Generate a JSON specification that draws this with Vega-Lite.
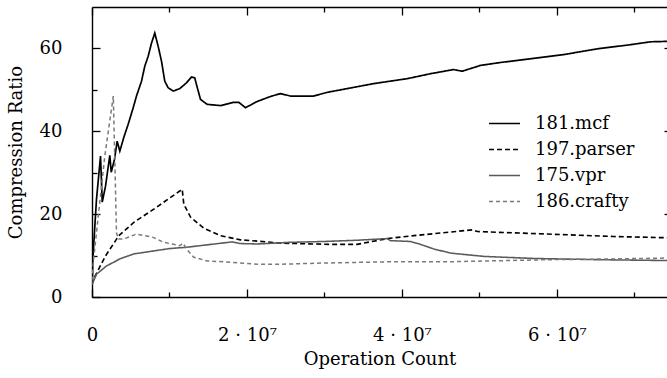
{
  "$schema": "https://vega.github.io/schema/vega-lite/v6.json",
  "width": 575,
  "height": 290,
  "autosize": {"type": "none"},
  "padding": {"left": 92, "top": 7, "right": 0, "bottom": 81},
  "background": "white",
  "config": {
    "view": {"stroke": null},
    "font": "DejaVu Serif",
    "axis": {
      "grid": false,
      "labelFont": "DejaVu Serif",
      "labelFontSize": 18,
      "labelColor": "#000",
      "titleFont": "DejaVu Serif",
      "titleFontSize": 18,
      "titleFontWeight": "normal",
      "titleColor": "#000",
      "domainColor": "#000",
      "domainWidth": 1.4,
      "tickColor": "#000",
      "tickWidth": 1.3
    },
    "legend": {
      "labelFont": "DejaVu Serif",
      "labelFontSize": 18,
      "labelColor": "#000",
      "symbolType": "stroke",
      "symbolSize": 961,
      "symbolStrokeWidth": 1.5,
      "labelOffset": 14,
      "clipHeight": 25,
      "rowPadding": 1,
      "padding": 0
    }
  },
  "data": {
    "values": [
      {"bench": "181.mcf", "ops": 50000, "ratio": 4},
      {"bench": "181.mcf", "ops": 100000, "ratio": 9},
      {"bench": "181.mcf", "ops": 580000, "ratio": 23.6},
      {"bench": "181.mcf", "ops": 1100000, "ratio": 34.0},
      {"bench": "181.mcf", "ops": 1320000, "ratio": 22.9},
      {"bench": "181.mcf", "ops": 1740000, "ratio": 26.7},
      {"bench": "181.mcf", "ops": 2300000, "ratio": 34.2},
      {"bench": "181.mcf", "ops": 2480000, "ratio": 30.1},
      {"bench": "181.mcf", "ops": 2900000, "ratio": 33.2},
      {"bench": "181.mcf", "ops": 3250000, "ratio": 37.6},
      {"bench": "181.mcf", "ops": 3590000, "ratio": 35.2},
      {"bench": "181.mcf", "ops": 4100000, "ratio": 38.5},
      {"bench": "181.mcf", "ops": 4670000, "ratio": 41.7},
      {"bench": "181.mcf", "ops": 5320000, "ratio": 45.7},
      {"bench": "181.mcf", "ops": 5740000, "ratio": 48.5},
      {"bench": "181.mcf", "ops": 6390000, "ratio": 52.1},
      {"bench": "181.mcf", "ops": 6810000, "ratio": 55.7},
      {"bench": "181.mcf", "ops": 7250000, "ratio": 58.1},
      {"bench": "181.mcf", "ops": 7680000, "ratio": 61.3},
      {"bench": "181.mcf", "ops": 8100000, "ratio": 63.7},
      {"bench": "181.mcf", "ops": 8540000, "ratio": 60.5},
      {"bench": "181.mcf", "ops": 8970000, "ratio": 56.9},
      {"bench": "181.mcf", "ops": 9390000, "ratio": 52.1},
      {"bench": "181.mcf", "ops": 9830000, "ratio": 50.5},
      {"bench": "181.mcf", "ops": 10480000, "ratio": 49.7},
      {"bench": "181.mcf", "ops": 11330000, "ratio": 50.3},
      {"bench": "181.mcf", "ops": 12190000, "ratio": 51.7},
      {"bench": "181.mcf", "ops": 12840000, "ratio": 53.1},
      {"bench": "181.mcf", "ops": 13260000, "ratio": 52.9},
      {"bench": "181.mcf", "ops": 13480000, "ratio": 51.3},
      {"bench": "181.mcf", "ops": 14000000, "ratio": 47.7},
      {"bench": "181.mcf", "ops": 14860000, "ratio": 46.5},
      {"bench": "181.mcf", "ops": 16580000, "ratio": 46.2},
      {"bench": "181.mcf", "ops": 18300000, "ratio": 47.0},
      {"bench": "181.mcf", "ops": 18940000, "ratio": 47.0},
      {"bench": "181.mcf", "ops": 19810000, "ratio": 45.7},
      {"bench": "181.mcf", "ops": 21320000, "ratio": 47.2},
      {"bench": "181.mcf", "ops": 23030000, "ratio": 48.4},
      {"bench": "181.mcf", "ops": 24320000, "ratio": 49.1},
      {"bench": "181.mcf", "ops": 25610000, "ratio": 48.5},
      {"bench": "181.mcf", "ops": 28580000, "ratio": 48.5},
      {"bench": "181.mcf", "ops": 30350000, "ratio": 49.4},
      {"bench": "181.mcf", "ops": 32930000, "ratio": 50.3},
      {"bench": "181.mcf", "ops": 36320000, "ratio": 51.5},
      {"bench": "181.mcf", "ops": 40670000, "ratio": 52.7},
      {"bench": "181.mcf", "ops": 43680000, "ratio": 53.9},
      {"bench": "181.mcf", "ops": 46650000, "ratio": 54.9},
      {"bench": "181.mcf", "ops": 47770000, "ratio": 54.5},
      {"bench": "181.mcf", "ops": 50130000, "ratio": 55.9},
      {"bench": "181.mcf", "ops": 52710000, "ratio": 56.6},
      {"bench": "181.mcf", "ops": 56580000, "ratio": 57.5},
      {"bench": "181.mcf", "ops": 60840000, "ratio": 58.5},
      {"bench": "181.mcf", "ops": 65190000, "ratio": 59.9},
      {"bench": "181.mcf", "ops": 69480000, "ratio": 60.9},
      {"bench": "181.mcf", "ops": 72060000, "ratio": 61.6},
      {"bench": "181.mcf", "ops": 74200000, "ratio": 61.7},

      {"bench": "197.parser", "ops": 0, "ratio": 3.0},
      {"bench": "197.parser", "ops": 300000, "ratio": 4.7},
      {"bench": "197.parser", "ops": 1740000, "ratio": 9.9},
      {"bench": "197.parser", "ops": 3460000, "ratio": 14.8},
      {"bench": "197.parser", "ops": 5390000, "ratio": 18.0},
      {"bench": "197.parser", "ops": 7970000, "ratio": 21.2},
      {"bench": "197.parser", "ops": 11640000, "ratio": 26.0},
      {"bench": "197.parser", "ops": 11850000, "ratio": 22.4},
      {"bench": "197.parser", "ops": 12710000, "ratio": 19.3},
      {"bench": "197.parser", "ops": 14430000, "ratio": 16.6},
      {"bench": "197.parser", "ops": 16580000, "ratio": 14.8},
      {"bench": "197.parser", "ops": 19160000, "ratio": 13.8},
      {"bench": "197.parser", "ops": 21320000, "ratio": 13.5},
      {"bench": "197.parser", "ops": 24320000, "ratio": 13.0},
      {"bench": "197.parser", "ops": 30770000, "ratio": 12.7},
      {"bench": "197.parser", "ops": 34220000, "ratio": 12.7},
      {"bench": "197.parser", "ops": 38090000, "ratio": 14.1},
      {"bench": "197.parser", "ops": 41520000, "ratio": 14.8},
      {"bench": "197.parser", "ops": 49060000, "ratio": 16.2},
      {"bench": "197.parser", "ops": 49710000, "ratio": 15.8},
      {"bench": "197.parser", "ops": 58740000, "ratio": 15.2},
      {"bench": "197.parser", "ops": 67330000, "ratio": 14.6},
      {"bench": "197.parser", "ops": 74200000, "ratio": 14.3},

      {"bench": "175.vpr", "ops": 0, "ratio": 3.0},
      {"bench": "175.vpr", "ops": 580000, "ratio": 5.5},
      {"bench": "175.vpr", "ops": 1100000, "ratio": 6.3},
      {"bench": "175.vpr", "ops": 1870000, "ratio": 7.5},
      {"bench": "175.vpr", "ops": 2810000, "ratio": 8.4},
      {"bench": "175.vpr", "ops": 3590000, "ratio": 9.2},
      {"bench": "175.vpr", "ops": 5390000, "ratio": 10.4},
      {"bench": "175.vpr", "ops": 7900000, "ratio": 11.1},
      {"bench": "175.vpr", "ops": 10040000, "ratio": 11.7},
      {"bench": "175.vpr", "ops": 12190000, "ratio": 12.0},
      {"bench": "175.vpr", "ops": 18090000, "ratio": 13.3},
      {"bench": "175.vpr", "ops": 19160000, "ratio": 12.9},
      {"bench": "175.vpr", "ops": 21320000, "ratio": 12.8},
      {"bench": "175.vpr", "ops": 25610000, "ratio": 13.2},
      {"bench": "175.vpr", "ops": 29910000, "ratio": 13.4},
      {"bench": "175.vpr", "ops": 34220000, "ratio": 13.7},
      {"bench": "175.vpr", "ops": 38090000, "ratio": 14.1},
      {"bench": "175.vpr", "ops": 38520000, "ratio": 13.6},
      {"bench": "175.vpr", "ops": 41100000, "ratio": 13.4},
      {"bench": "175.vpr", "ops": 42390000, "ratio": 12.7},
      {"bench": "175.vpr", "ops": 44100000, "ratio": 11.6},
      {"bench": "175.vpr", "ops": 46260000, "ratio": 10.6},
      {"bench": "175.vpr", "ops": 50550000, "ratio": 9.8},
      {"bench": "175.vpr", "ops": 57000000, "ratio": 9.3},
      {"bench": "175.vpr", "ops": 65610000, "ratio": 9.0},
      {"bench": "175.vpr", "ops": 74200000, "ratio": 8.8},

      {"bench": "186.crafty", "ops": 0, "ratio": 4.0},
      {"bench": "186.crafty", "ops": 200000, "ratio": 9.0},
      {"bench": "186.crafty", "ops": 1650000, "ratio": 34.0},
      {"bench": "186.crafty", "ops": 2750000, "ratio": 48.5},
      {"bench": "186.crafty", "ops": 3160000, "ratio": 15.5},
      {"bench": "186.crafty", "ops": 3380000, "ratio": 14.0},
      {"bench": "186.crafty", "ops": 4100000, "ratio": 14.0},
      {"bench": "186.crafty", "ops": 5740000, "ratio": 15.2},
      {"bench": "186.crafty", "ops": 7900000, "ratio": 14.4},
      {"bench": "186.crafty", "ops": 9260000, "ratio": 13.2},
      {"bench": "186.crafty", "ops": 11330000, "ratio": 12.4},
      {"bench": "186.crafty", "ops": 11770000, "ratio": 13.0},
      {"bench": "186.crafty", "ops": 12190000, "ratio": 11.6},
      {"bench": "186.crafty", "ops": 13140000, "ratio": 9.6},
      {"bench": "186.crafty", "ops": 14860000, "ratio": 8.7},
      {"bench": "186.crafty", "ops": 17870000, "ratio": 8.4},
      {"bench": "186.crafty", "ops": 21320000, "ratio": 7.9},
      {"bench": "186.crafty", "ops": 24320000, "ratio": 7.9},
      {"bench": "186.crafty", "ops": 29910000, "ratio": 8.2},
      {"bench": "186.crafty", "ops": 38520000, "ratio": 8.5},
      {"bench": "186.crafty", "ops": 45830000, "ratio": 8.5},
      {"bench": "186.crafty", "ops": 58740000, "ratio": 9.0},
      {"bench": "186.crafty", "ops": 67330000, "ratio": 9.2},
      {"bench": "186.crafty", "ops": 74200000, "ratio": 9.4}
    ]
  },
  "layer": [
    {
      "mark": {"type": "line", "clip": true},
      "encoding": {
        "x": {
          "field": "ops", "type": "quantitative",
          "scale": {"domain": [0, 74200000], "nice": false, "zero": false},
          "axis": {
            "orient": "bottom",
            "title": "Operation Count",
            "values": [0, 10000000, 20000000, 30000000, 40000000, 50000000, 60000000, 70000000],
            "labelExpr": "datum.value === 0 ? '0' : (datum.value % 20000000 === 0 ? (datum.value / 10000000) + ' · 10⁷' : '')",
            "tickSize": {"condition": {"test": "datum.value % 20000000 === 0", "value": -8}, "value": -5},
            "labelPadding": 37,
            "labelFlush": false,
            "labelOverlap": false,
            "titlePadding": 3
          }
        },
        "y": {
          "field": "ratio", "type": "quantitative",
          "scale": {"domain": [0, 70], "nice": false},
          "axis": {
            "orient": "left",
            "title": "Compression Ratio",
            "values": [0, 10, 20, 30, 40, 50, 60],
            "labelExpr": "datum.value % 20 === 0 ? datum.label : ''",
            "tickSize": {"condition": {"test": "datum.value % 20 === 0", "value": -8}, "value": -5},
            "labelPadding": 38,
            "labelOverlap": false,
            "titlePadding": 14
          }
        },
        "color": {
          "field": "bench", "type": "nominal",
          "scale": {"domain": ["181.mcf", "197.parser", "175.vpr", "186.crafty"], "range": ["#000000", "#000000", "#5a5a5a", "#7a7a7a"]},
          "legend": {"title": null, "orient": "none", "legendX": 396, "legendY": 104}
        },
        "strokeDash": {
          "field": "bench", "type": "nominal",
          "scale": {"domain": ["181.mcf", "197.parser", "175.vpr", "186.crafty"], "range": [[1, 0], [5, 3], [1, 0], [4, 3]]},
          "legend": {"title": null, "orient": "none", "legendX": 396, "legendY": 104}
        },
        "strokeWidth": {
          "field": "bench", "type": "nominal",
          "scale": {"domain": ["181.mcf", "197.parser", "175.vpr", "186.crafty"], "range": [1.7, 1.5, 1.3, 1.2]},
          "legend": null
        }
      }
    },
    {
      "mark": {"type": "point", "opacity": 0},
      "encoding": {
        "x": {
          "field": "ops", "type": "quantitative",
          "axis": {
            "orient": "top",
            "title": null,
            "labels": false,
            "values": [0, 10000000, 20000000, 30000000, 40000000, 50000000, 60000000, 70000000],
            "tickSize": {"condition": {"test": "datum.value % 20000000 === 0", "value": -8}, "value": -5}
          }
        },
        "y": {
          "field": "ratio", "type": "quantitative",
          "axis": {
            "orient": "right",
            "title": null,
            "labels": false,
            "domain": false,
            "values": [20, 40, 60],
            "tickSize": -3
          }
        }
      }
    }
  ],
  "resolve": {"axis": {"x": "independent", "y": "independent"}}
}
